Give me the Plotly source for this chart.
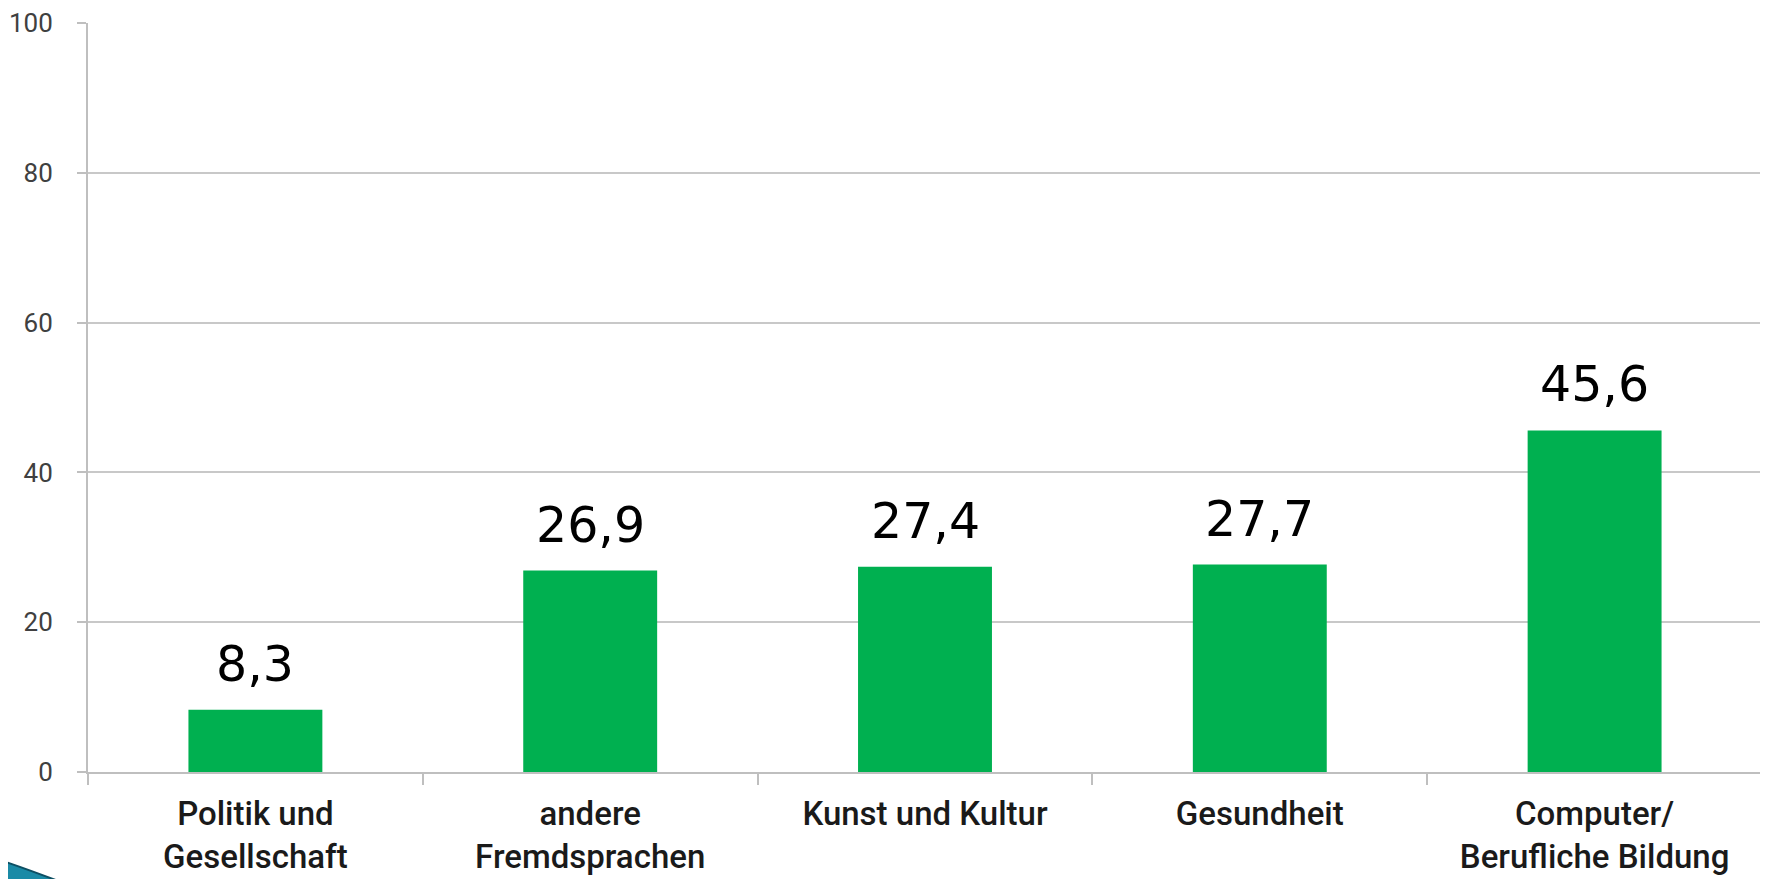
import plotly.graph_objects as go

categories = ["Politik und<br>Gesellschaft", "andere<br>Fremdsprachen", "Kunst und Kultur",
              "Gesundheit", "Computer/<br>Berufliche Bildung"]
values = [8.3, 26.9, 27.4, 27.7, 45.6]
value_labels = ["8,3", "26,9", "27,4", "27,7", "45,6"]
y_ticks = [0, 20, 40, 60, 80, 100]

# figure sits inside the page body (8px default margin)
W, H = 1760, 871
ML, MR, MT, MB = 80, 6, 15, 107

fig = go.Figure()
fig.add_trace(go.Bar(
    x=categories, y=values, width=0.4,
    marker=dict(color="#00b050", line=dict(width=0)),
    hoverinfo="skip",
))

for c, v, t in zip(categories, values, value_labels):
    fig.add_annotation(x=c, y=v, text=t, showarrow=False, yanchor="bottom",
                       yshift=15, font=dict(family="DejaVu Sans", size=49, color="#000000"))

# decorative swoosh in bottom-left corner (figure pixel coords)
pw = W - ML - MR
ph = H - MT - MB
def px(x):
    return (x - ML) / pw
def py(y):
    return (H - MB - y) / ph
fig.add_shape(type="path", xref="paper", yref="paper",
              path=f"M {px(-8)} {py(852)} Q {px(22)} {py(862)} {px(66)} {py(879)} L {px(-8)} {py(879)} Z",
              fillcolor="#1a8aa6", line=dict(color="#0d4f63", width=2), layer="above")

fig.update_layout(
    width=W, height=H,
    margin=dict(l=ML, r=MR, t=MT, b=MB, pad=0, autoexpand=False),
    paper_bgcolor="white", plot_bgcolor="white",
    showlegend=False,
    bargap=0.6,
    xaxis=dict(
        type="category", automargin=False,
        showline=True, linecolor="#bfbfbf", linewidth=2,
        ticks="outside", tickson="boundaries", ticklen=11, tickwidth=2, tickcolor="#bfbfbf",
        showgrid=False,
        tickfont=dict(family="Roboto", size=33, color="#1a1a1a", weight=500),
        ticklabelstandoff=11,
        ticklabeloverflow="allow",
    ),
    yaxis=dict(
        range=[0, 100], automargin=False,
        tickvals=y_ticks,
        showline=True, linecolor="#bfbfbf", linewidth=2,
        ticks="outside", ticklen=9, tickwidth=2, tickcolor="#bfbfbf",
        showgrid=True, gridcolor="#c8c8c8", gridwidth=2,
        zeroline=False,
        tickfont=dict(family="Roboto", size=26, color="#404040"),
        ticklabelstandoff=19,
        ticklabeloverflow="allow",
    ),
)

fig.write_html("out.html")
